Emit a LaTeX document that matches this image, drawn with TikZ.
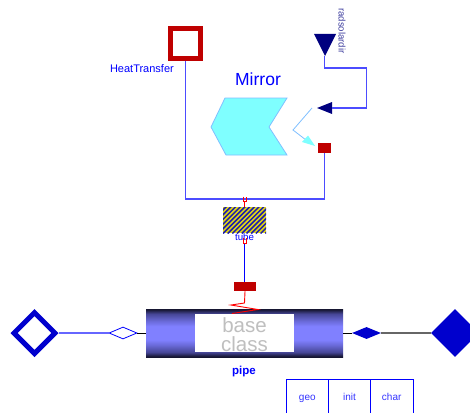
\documentclass[tikz,border=0pt]{standalone}
\usepackage{fontspec}
\setmainfont{Liberation Sans}
\usetikzlibrary{shapes.geometric}
\definecolor{mblue}{RGB}{0,0,255}
\definecolor{mred}{RGB}{191,0,0}
\definecolor{dblue}{RGB}{0,0,205}
\definecolor{navy2}{RGB}{0,0,127}
\definecolor{cyanf}{RGB}{127,255,255}
\definecolor{cyane}{RGB}{127,191,255}
\definecolor{pipem}{RGB}{128,128,255}
\definecolor{pipee}{RGB}{22,22,50}
\definecolor{pipeq}{RGB}{70,70,150}
\definecolor{pipeh}{RGB}{108,108,220}
\definecolor{tubey}{RGB}{225,215,20}
\definecolor{tubeb}{RGB}{30,30,170}
\pgfdeclareverticalshading{pipeshade}{100bp}{color(0bp)=(pipee); color(25.5bp)=(pipee); color(30bp)=(pipeq); color(38bp)=(pipeh); color(43bp)=(pipem); color(57bp)=(pipem); color(62bp)=(pipeh); color(70bp)=(pipeq); color(74.5bp)=(pipee); color(100bp)=(pipee)}
\tikzset{
 conn/.style={draw=mblue!70,line width=1.1pt},
 lbl/.style={text=mblue,inner sep=0pt,font=\fontsize{11}{13}\selectfont},
 redbox/.style={draw=none,fill=mred,minimum width=#1,inner sep=0pt},
 redline/.style={red,line width=0.9pt},
 tabcell/.style={draw=mblue,line width=0.7pt,minimum width=42.3pt,minimum height=38pt,inner sep=0pt,text=mblue!80,text height=7.5pt,text depth=2.5pt,font=\fontsize{10}{12}\selectfont},
}
\begin{document}
\begin{tikzpicture}[x=1pt,y=-1pt]
\useasboundingbox (0,0) rectangle (470,412);
% Top connectors
\node[draw=mred,line width=5pt,fill=white,minimum size=30pt,inner sep=0pt] (heat) at (185.5,43.5) {};
\node[lbl,anchor=east] (heatlbl) at (174,69) {HeatTransfer};
\coordinate (jtop) at (245,199);
\node[redbox=13pt,minimum height=10pt] (port) at (324.7,148) {};
\draw[conn] (heat.south) |- (jtop) -| (port.south);
% solar direction input
\fill[navy2] (314,34) -- (336,34) -- (325,56) -- cycle;
\coordinate (solar) at (324.7,56);
\node[rotate=-90,lbl,text=navy2!75!white,font=\fontsize{9.6}{11}\selectfont] (solarlbl) at (342,31) {radsolardir};
\fill[navy2] (332,102) -- (332,114) -- (317,108) -- cycle;
\coordinate (inp) at (332,108);
\draw[conn] (solar) |- (366.5,68) |- (inp);
% Mirror
\node[text=mblue,inner sep=0pt,font=\fontsize{17.5}{20}\selectfont] (mirror) at (258,79) {Mirror};
\draw[cyane,fill=cyanf,line width=0.8pt] (225,98) -- (287,98) -- (269,127) -- (287,155) -- (226,155) -- (211,127) -- cycle;
\coordinate (r1) at (312,108);
\coordinate (r2) at (293,130);
\coordinate (r3) at (306,140);
\coordinate (r4) at (315,146);
\draw[cyane,line width=0.8pt] (r1) -- (r2) -- (r3);
\fill[cyanf] (r4) -- (302,142) -- (308,135.5) -- cycle;
% tube
\node[draw=none,fill=tubey,minimum width=43pt,minimum height=26pt,inner sep=0pt] (tube) at (244.5,220) {};
\begin{scope}
\clip (223,207) rectangle (266,233);
\foreach \k in {-6,...,10} {
  \draw[tubeb,line width=1.5pt] ({223+\k*4.7},233.5) -- ({223+\k*4.7+27},206.5);
}
\end{scope}
\node[text=mblue,inner sep=0pt,font=\fontsize{9.7}{11}\selectfont] (tubelbl) at (244.5,237) {tube};
\node[redbox=22pt,minimum height=9pt] (wall) at (245,286.5) {};
\coordinate (wtop) at (244.5,243);
\draw[mblue,line width=1.1pt] (wtop) -- (wtop |- wall.north);
\draw[redline] (243,196.5) -- (243,201) -- (246.5,201) -- (246.5,196.5);
\draw[redline] (244.8,201) -- (244.8,207);
\draw[redline] (243,238) -- (243,243) -- (246.5,243) -- (246.5,238);
% pipe
\node[draw=none,minimum width=197pt,minimum height=48pt,inner sep=0pt,shading=pipeshade] (pipe) at (244.5,333) {};
\fill[white] (195,314) rectangle (294,352);
\node[align=center,text=black!25,inner sep=0pt,font=\fontsize{20.5}{19}\selectfont] (base) at (244.5,334.5) {base\\class};
\draw[redline] (wall.south) -- (244.5,303) -- (231,305) -- (258,309.5) -- (232,313.5);
\node[text=mblue,inner sep=0pt,font=\bfseries\fontsize{11.5}{13}\selectfont] (pipelbl) at (244,372) {pipe};
% ports
\node[diamond,draw=dblue,line width=5pt,fill=white,minimum size=43pt,inner sep=0pt] (pa) at (34.5,333) {};
\node[diamond,draw=mblue,line width=0.8pt,fill=white,minimum width=28pt,minimum height=12pt,inner sep=0pt] (a) at (123,333) {};
\node[diamond,fill=dblue,minimum width=48pt,minimum height=48pt,inner sep=0pt] (pb) at (455,333) {};
\node[diamond,fill=dblue,minimum width=29pt,minimum height=12pt,inner sep=0pt] (b) at (366.5,333) {};
\draw[mblue!60,line width=1.1pt] (pa.east) -- (a.west);
\draw[black,line width=0.8pt] (a.east) -- (pipe.west);
\draw[black,line width=0.8pt] (pipe.east) -- (b.west);
\draw[black!60,line width=1.1pt] (b.east) -- (pb.west);
% table
\node[tabcell] (geo) at (307.3,398) {geo};
\node[tabcell] (init) at (349.5,398) {init};
\node[tabcell] (char) at (391.7,398) {char};
\end{tikzpicture}
\end{document}
